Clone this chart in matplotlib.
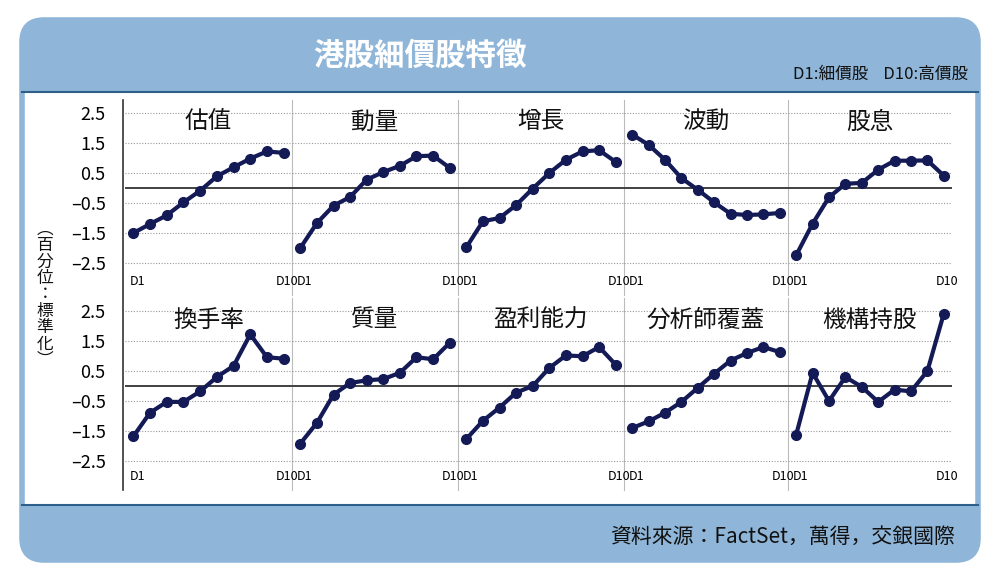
import matplotlib
matplotlib.use("Agg")
import matplotlib.pyplot as plt
from matplotlib.patches import FancyBboxPatch, Rectangle

plt.rcParams['font.family'] = ['Noto Sans CJK JP', 'Noto Sans CJK TC', 'Noto Sans CJK SC',
                               'Noto Sans CJK KR', 'DejaVu Sans']

# data
deciles = list(range(1, 11))
top_names = ['估值', '動量', '增長', '波動', '股息']
bottom_names = ['換手率', '質量', '盈利能力', '分析師覆蓋', '機構持股']

valuation = [-1.5, -1.2, -0.91, -0.48, -0.09, 0.39, 0.69, 0.98, 1.22, 1.17]
momentum = [-2.0, -1.17, -0.59, -0.3, 0.28, 0.53, 0.74, 1.06, 1.08, 0.67]
growth = [-1.98, -1.11, -1.0, -0.57, -0.02, 0.5, 0.94, 1.22, 1.26, 0.87]
volatility = [1.78, 1.44, 0.94, 0.33, -0.06, -0.48, -0.86, -0.9, -0.88, -0.83]
dividend = [-2.24, -1.19, -0.31, 0.14, 0.17, 0.61, 0.91, 0.91, 0.92, 0.41]

turnover = [-1.68, -0.89, -0.53, -0.53, -0.18, 0.3, 0.67, 1.72, 0.96, 0.91]
quality = [-1.92, -1.23, -0.29, 0.1, 0.19, 0.23, 0.44, 0.96, 0.89, 1.44]
profitability = [-1.77, -1.16, -0.72, -0.22, 0.0, 0.6, 1.02, 0.99, 1.3, 0.71]
coverage = [-1.4, -1.18, -0.89, -0.53, -0.06, 0.41, 0.85, 1.1, 1.3, 1.13]
institutional = [-1.62, 0.44, -0.5, 0.3, -0.03, -0.53, -0.12, -0.18, 0.5, 2.41]

top_series = [valuation, momentum, growth, volatility, dividend]
bottom_series = [turnover, quality, profitability, coverage, institutional]
yticks = [2.5, 1.5, 0.5, -0.5, -1.5, -2.5]
ytick_labels = ['2.5', '1.5', '0.5', '–0.5', '–1.5', '–2.5']

W, H = 1000, 580
blue = '#8fb6d8'
navy = '#141a55'

fig = plt.figure(figsize=(10, 5.8), dpi=100)
bg = fig.add_axes([0, 0, 1, 1])
bg.set_xlim(0, W)
bg.set_ylim(H, 0)
bg.axis('off')
bg.add_patch(FancyBboxPatch((22, 20), 956, 540, boxstyle='round,pad=0,rounding_size=22',
                            fc='white', ec=blue, lw=4))
bg.add_patch(FancyBboxPatch((22, 20), 956, 72, boxstyle='round,pad=0,rounding_size=22',
                            fc=blue, ec='none'))
bg.add_patch(Rectangle((22, 60), 956, 32, fc=blue, ec='none'))
bg.add_patch(FancyBboxPatch((22, 505), 956, 55, boxstyle='round,pad=0,rounding_size=22',
                            fc=blue, ec='none'))
bg.add_patch(Rectangle((22, 505), 956, 25, fc=blue, ec='none'))
bg.plot([22, 978], [92, 92], color='#2d5f8a', lw=1.5)
bg.plot([22, 978], [505, 505], color='#2d5f8a', lw=1.5)
bg.text(420, 56, '港股細價股特徵', color='white', fontsize=22, fontweight='bold',
        ha='center', va='center')
bg.text(968, 74, 'D1:細價股    D10:高價股', color='#111', fontsize=12,
        ha='right', va='center')
bg.text(955, 537, '資料來源：FactSet，萬得，交銀國際', color='#111', fontsize=15,
        ha='right', va='center')
bg.text(45, 295, '\n'.join('︵百分位：標準化︶'), color='#111', fontsize=12,
        ha='center', va='center', linespacing=0.95)
bg.plot([123, 123], [100, 490], color='#333', lw=1.2)

edges = [125, 292, 458, 624, 788, 952]


def draw_row(names, series, top_px, grid_top_px, bottom_px):
    ppu = 30.0
    ymax = 2.5 + (grid_top_px - top_px) / ppu
    ymin = 2.5 - (bottom_px - grid_top_px) / ppu
    for i, (name, vals) in enumerate(zip(names, series)):
        x0, x1 = edges[i], edges[i + 1]
        ax = fig.add_axes([x0 / W, 1 - bottom_px / H, (x1 - x0) / W, (bottom_px - top_px) / H])
        ax.set_xlim(0.5, 10.5)
        ax.set_ylim(ymin, ymax)
        for t in yticks:
            ax.axhline(t, color='#999', lw=0.8, ls=(0, (1, 1.5)))
        ax.axhline(0, color='#333', lw=1.3)
        ax.plot(deciles, vals, color=navy, lw=3, marker='o', ms=7, zorder=3)
        ax.text(5.5, 2.2, name, fontsize=17, ha='center', va='center', color='#111')
        ax.text(0.8, ymin + 0.45, 'D1', fontsize=9, ha='left', va='center')
        ax.text(10.9, ymin + 0.45, 'D10', fontsize=9, ha='right', va='center')
        ax.set_xticks([])
        if i == 0:
            ax.set_yticks(yticks)
            ax.set_yticklabels(ytick_labels, fontsize=13)
            ax.tick_params(axis='y', length=0, pad=14)
        else:
            ax.set_yticks([])
        for s in ['top', 'bottom', 'left']:
            ax.spines[s].set_visible(False)
        ax.spines['right'].set_color('#bbb')
        if i == 4:
            ax.spines['right'].set_visible(False)
        ax.patch.set_alpha(0)


draw_row(top_names, top_series, 100, 113, 295)
draw_row(bottom_names, bottom_series, 298, 311, 490)

fig.savefig('out.png', dpi=100)
